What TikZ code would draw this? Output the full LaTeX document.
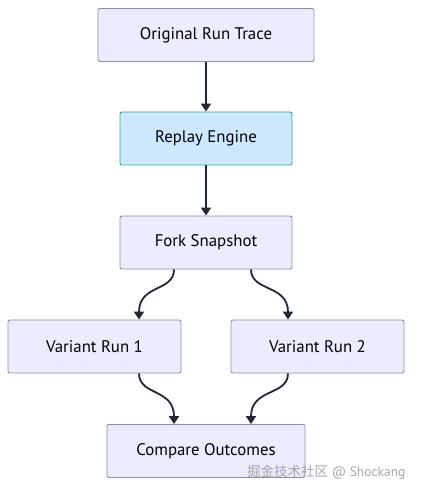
\documentclass[tikz,border=0pt]{standalone}
\usepackage{fontspec}
\setmainfont{PT Sans}
\newfontfamily\cjk{Noto Sans CJK SC}
\usetikzlibrary{arrows.meta}
\definecolor{nodefill}{HTML}{ECECFF}
\definecolor{nodeline}{HTML}{8E8EA8}
\definecolor{hifill}{HTML}{CCE8FF}
\definecolor{hiline}{HTML}{3FA67E}
\definecolor{arrowcol}{HTML}{222834}
\begin{document}
\begin{tikzpicture}[x=1pt,y=-1pt,
  box/.style={draw=nodeline, fill=nodefill, line width=0.9pt, rounded corners=2pt,
    minimum height=53pt, inner sep=0pt, font=\fontsize{16.8}{20}\selectfont},
  hibox/.style={box, draw=hiline, fill=hifill},
  conn/.style={draw=arrowcol, line width=1.8pt, -{Triangle[length=8pt,width=10pt]}}]
\useasboundingbox (0,0) rectangle (421,494);
\fill[white] (0,0) rectangle (421,494);
\node[box, minimum width=216pt] (trace) at (206,35) {Original Run Trace};
\node[hibox, minimum width=172pt] (replay) at (206,138.5) {Replay Engine};
\node[box, minimum width=172pt] (fork) at (206,242.5) {Fork Snapshot};
\node[box, minimum width=173pt] (v1) at (94.5,346.5) {Variant Run 1};
\node[box, minimum width=173pt] (v2) at (317.5,346.5) {Variant Run 2};
\node[box, minimum width=198pt] (cmp) at (206,451) {Compare Outcomes};
\node[text=gray!70, font=\fontsize{13.5}{16}\selectfont, anchor=east] (wm) at (409,472) {{\cjk 掘金技术社区} @ Shockang};
\draw[conn] (trace.south) -- (replay.north);
\draw[conn] (replay.south) -- (fork.north);
\draw[conn] (fork.south -| 174,0) .. controls (174,292) and (139,284) .. (v1.north -| 139,0);
\draw[conn] (fork.south -| 251,0) .. controls (251,292) and (288,284) .. (v2.north -| 288,0);
\draw[conn] (v1.south -| 139,0) .. controls (139,396) and (174,388) .. (cmp.north -| 174,0);
\draw[conn] (v2.south -| 288,0) .. controls (288,396) and (251,388) .. (cmp.north -| 251,0);
\end{tikzpicture}
\end{document}
